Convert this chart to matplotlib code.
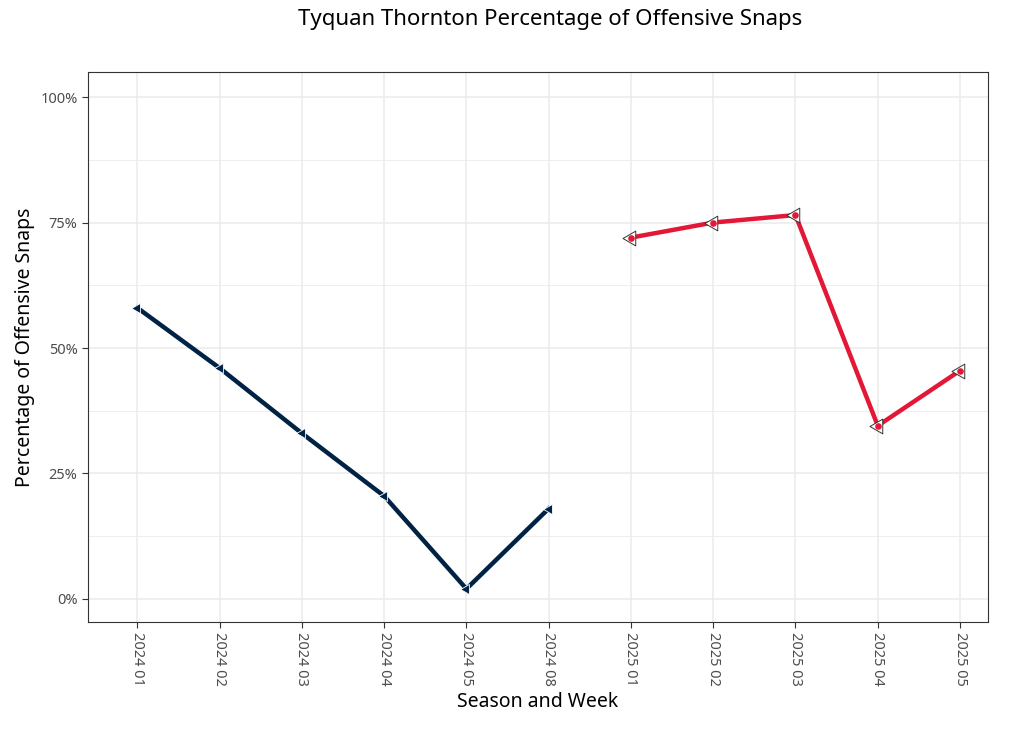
import matplotlib
matplotlib.use("Agg")
import matplotlib.pyplot as plt
from matplotlib.ticker import FuncFormatter

plt.rcParams['font.family'] = ['Noto Sans', 'DejaVu Sans']

weeks = ["2024 01", "2024 02", "2024 03", "2024 04", "2024 05", "2024 08",
         "2025 01", "2025 02", "2025 03", "2025 04", "2025 05"]
ne_vals = [58, 46, 33, 20.5, 2, 18]
kc_vals = [72, 75, 76.5, 34.5, 45.5]

fig = plt.figure(figsize=(10.24, 7.31), dpi=100)
ax = fig.add_axes([88/1024, 1-622/731, 900/1024, 550/731])

xs = list(range(len(weeks)))
ne_x = xs[:6]
kc_x = xs[6:]
ax.plot(ne_x, ne_vals, color="#002244", lw=3.2, zorder=3)
ax.plot(kc_x, kc_vals, color="#E31837", lw=3.2, zorder=3)
ax.scatter(ne_x, ne_vals, marker=(3, 0, 90), s=70, color="#002244",
           edgecolor="white", linewidth=0.6, zorder=4)
ax.scatter(kc_x, kc_vals, marker=(3, 0, 90), s=150, color="white",
           edgecolor="#333333", linewidth=0.7, zorder=4)
ax.scatter(kc_x, kc_vals, marker="o", s=14, color="#E31837", zorder=5)

ax.set_xlim(-0.6, 10.34)
ax.set_ylim(-4.6, 105)
ax.set_xticks(xs)
ax.set_xticklabels(weeks, rotation=-90, fontsize=10.5, color="#4d4d4d")
ax.set_yticks([0, 25, 50, 75, 100])
ax.yaxis.set_major_formatter(FuncFormatter(lambda v, p: f"{int(v)}%"))
ax.tick_params(axis='y', labelsize=10.5, labelcolor="#4d4d4d")
ax.tick_params(color="#333333", length=4)
ax.set_yticks([12.5, 37.5, 62.5, 87.5], minor=True)
ax.tick_params(which='minor', length=0)
ax.grid(True, which='major', color="#ebebeb", lw=1.1)
ax.grid(True, which='minor', color="#ebebeb", lw=0.6)
ax.set_axisbelow(True)
for s in ax.spines.values():
    s.set_color("#333333")
    s.set_linewidth(0.8)

ax.set_xlabel("Season and Week", fontsize=14)
ax.set_ylabel("Percentage of Offensive Snaps", fontsize=14)
fig.text(550/1024, 1-20/731, "Tyquan Thornton Percentage of Offensive Snaps",
         ha="center", va="center", fontsize=16)
fig.savefig("out.png", dpi=100)
